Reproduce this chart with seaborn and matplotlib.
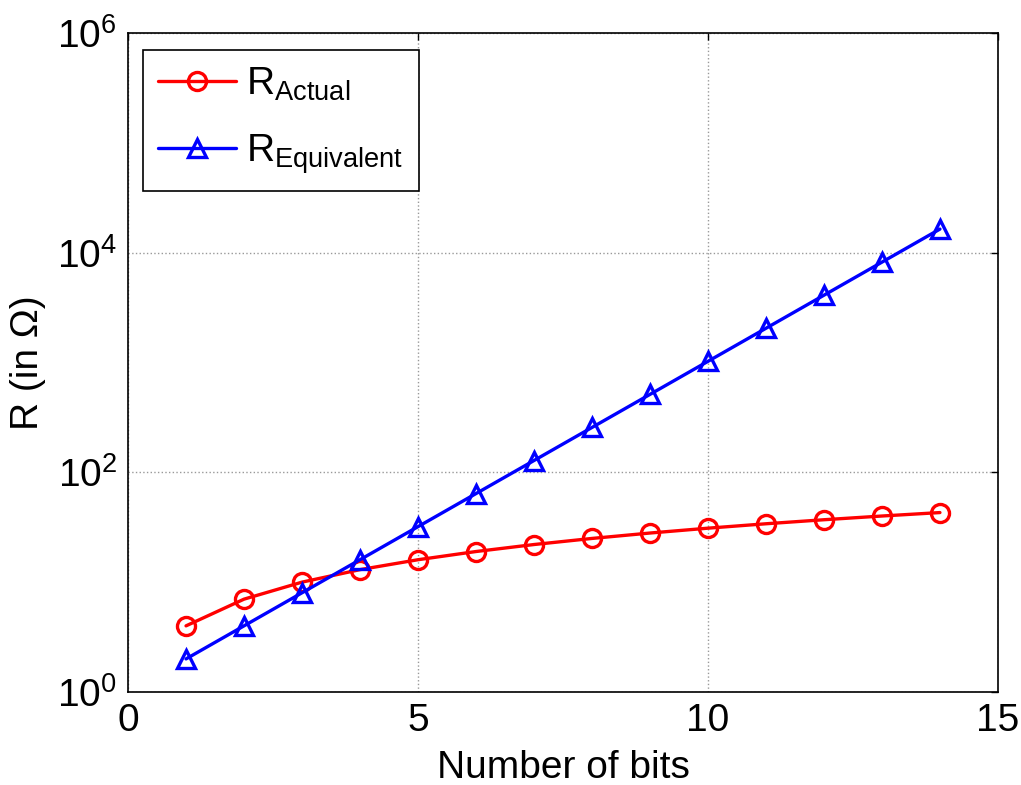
import pandas as pd
import matplotlib
matplotlib.use('Agg')
import matplotlib.pyplot as plt
import seaborn as sns

# dados
bits = [1, 2, 3, 4, 5, 6, 7, 8, 9, 10, 11, 12, 13, 14]
r_actual = [4, 7, 10, 13, 16, 19, 22, 25, 28, 31, 34, 37, 40, 43]
r_equiv = [2, 4, 8, 16, 32, 64, 128, 256, 512, 1024, 2048, 4096, 8192, 16384]

df = pd.DataFrame({'bits': bits, 'actual': r_actual, 'equiv': r_equiv})

sns.set_style('white')
plt.rcParams['font.family'] = ['Liberation Sans', 'DejaVu Sans']
plt.rcParams['mathtext.fontset'] = 'custom'
plt.rcParams['mathtext.rm'] = 'Liberation Sans'
plt.rcParams['mathtext.it'] = 'Liberation Sans'
plt.rcParams['text.color'] = 'black'
plt.rcParams['axes.labelcolor'] = 'black'
plt.rcParams['xtick.color'] = 'black'
plt.rcParams['ytick.color'] = 'black'

fig = plt.figure(figsize=(10.21, 7.85), dpi=100)
ax = fig.add_axes([0.1254, 0.1185, 0.852, 0.8395])

estilo = dict(linewidth=2.4, markersize=13, markerfacecolor='none', markeredgewidth=2.4)
sns.lineplot(data=df, x='bits', y='actual', color='#ff0000', marker='o',
             markeredgecolor='#ff0000', label=r'R$_{\mathrm{Actual}}$', ax=ax, **estilo)
sns.lineplot(data=df, x='bits', y='equiv', color='#0000ff', marker='^',
             markeredgecolor='#0000ff', label=r'R$_{\mathrm{Equivalent}}$', ax=ax, **estilo)

ax.set_yscale('log')
ax.set_xlim(0, 15)
ax.set_ylim(1, 1e6)
ax.set_xticks([0, 5, 10, 15])
ax.set_yticks([1, 1e2, 1e4, 1e6])
ax.set_yticklabels([r'$10^{0}$', r'$10^{2}$', r'$10^{4}$', r'$10^{6}$'])
ax.minorticks_off()
ax.tick_params(direction='in', top=True, right=True, labelsize=28, length=5, width=1, pad=8)
for s in ax.spines.values():
    s.set_linewidth(1.2)
    s.set_color('black')
ax.grid(True, linestyle=':', color='#999999', linewidth=1)

ax.set_xlabel('Number of bits', fontsize=28, labelpad=8)
ax.set_ylabel('R (in Ω)', fontsize=28, labelpad=8)

leg = ax.legend(loc='upper left', bbox_to_anchor=(0.017, 0.974), borderaxespad=0,
                fontsize=28, fancybox=False, framealpha=1, edgecolor='black',
                borderpad=0.4, handlelength=2.0, labelspacing=0.75, handletextpad=0.25)
leg.get_frame().set_linewidth(1.2)

plt.savefig('out.png', dpi=100)
